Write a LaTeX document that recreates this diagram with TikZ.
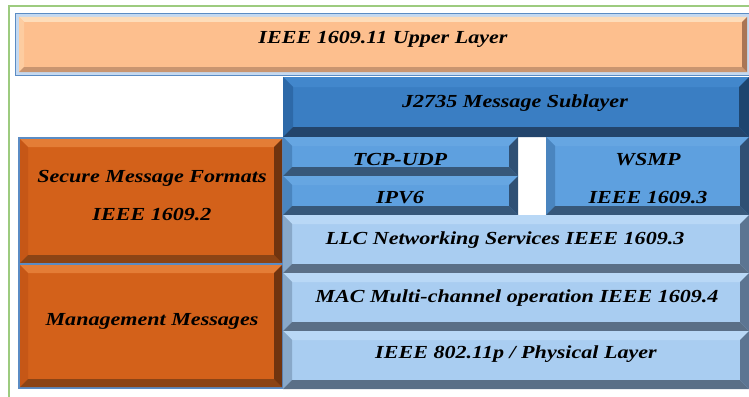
\documentclass[tikz,border=0pt]{standalone}
\usepackage{fontspec}
\newfontfamily\lab[FakeStretch=1.2]{Liberation Serif}
\definecolor{frameG}{HTML}{9DCB7F}
\definecolor{edgeB}{HTML}{5B8CC4}
\definecolor{edgeL}{HTML}{C5D9F0}
% peach
\definecolor{pface}{HTML}{FDBF8E}\definecolor{ptop}{HTML}{FEDDBA}\definecolor{pleft}{HTML}{FDCCA0}\definecolor{pbottom}{HTML}{C99570}\definecolor{pright}{HTML}{A97555}
% dark blue
\definecolor{dface}{HTML}{3A7EC3}\definecolor{dtop}{HTML}{4287CC}\definecolor{dleft}{HTML}{2D69A8}\definecolor{dbottom}{HTML}{23456C}\definecolor{dright}{HTML}{1D456F}
% orange
\definecolor{oface}{HTML}{D3611A}\definecolor{otop}{HTML}{E47D36}\definecolor{oleft}{HTML}{C65716}\definecolor{obottom}{HTML}{8C4415}\definecolor{oright}{HTML}{70340F}
% mid blue
\definecolor{mface}{HTML}{5EA0DF}\definecolor{mtop}{HTML}{66A6E2}\definecolor{mleft}{HTML}{4A85BF}\definecolor{mbottom}{HTML}{37587A}\definecolor{mright}{HTML}{2F5074}
% light blue
\definecolor{lface}{HTML}{A9CDF1}\definecolor{ltop}{HTML}{B9D8F6}\definecolor{lleft}{HTML}{88A8C9}\definecolor{lbottom}{HTML}{5A6F87}\definecolor{lright}{HTML}{5C7592}
\tikzset{
  lbl/.style={font=\lab\bfseries\itshape\fontsize{18.4}{20}\selectfont, inner sep=0pt, anchor=base, text=black},
  facebox/.style={rectangle, inner sep=0pt, outer sep=0pt, draw=none}
}
% #1 name, #2 x1, #3 y1, #4 x2, #5 y2, #6 palette letter, #7 bevel
\newcommand\bevbox[7]{%
  \node[facebox, fill=#6face, minimum width={#4pt-#2pt}, minimum height={#5pt-#3pt}] (#1) at ({(#2+#4)/2},{(#3+#5)/2}) {};
  \fill[#6top] (#1.north west) -- (#1.north east) -- ([xshift=-#7pt,yshift=-#7pt]#1.north east) -- ([xshift=#7pt,yshift=-#7pt]#1.north west) -- cycle;
  \fill[#6left] (#1.north west) -- (#1.south west) -- ([xshift=#7pt,yshift=#7pt]#1.south west) -- ([xshift=#7pt,yshift=-#7pt]#1.north west) -- cycle;
  \fill[#6bottom] (#1.south west) -- (#1.south east) -- ([xshift=-#7pt,yshift=#7pt]#1.south east) -- ([xshift=#7pt,yshift=#7pt]#1.south west) -- cycle;
  \fill[#6right] (#1.north east) -- (#1.south east) -- ([xshift=-#7pt,yshift=#7pt]#1.south east) -- ([xshift=-#7pt,yshift=-#7pt]#1.north east) -- cycle;
}
\begin{document}
\begin{tikzpicture}[x=1pt,y=-1pt]
\useasboundingbox (0,0) rectangle (749,396);
\clip (0,0) rectangle (749,396);
\fill[white] (0,0) rectangle (749,396);
% green frame
\draw[frameG, line width=1.6pt] (9,410) -- (9,6) -- (760,6);
% upper layer frame
\draw[edgeB, fill=edgeL, line width=1.5pt] (15.5,13.5) rectangle (752,75.5);
\bevbox{upper}{19}{17}{747}{72}{p}{5}
\node[lbl] (tupper) at (383,44) {IEEE 1609.11 Upper Layer};
% J2735
\bevbox{j2735}{283}{77}{749}{137}{d}{10}
\node[lbl] (tj2735) at (515,107) {J2735 Message Sublayer};
% left orange boxes
\draw[edgeB, line width=2pt] (19,138) rectangle (283,264);
\bevbox{secure}{20}{139}{282}{263}{o}{8}
\node[lbl] (tsecure1) at (152,182) {Secure Message Formats};
\node[lbl] (tsecure2) at (152,220) {IEEE 1609.2};
\draw[edgeB, line width=2pt] (19,264) rectangle (283,388);
\bevbox{mgmt}{20}{265}{282}{387}{o}{8}
\node[lbl] (tmgmt) at (152,325) {Management Messages};
% mid blue boxes
\bevbox{tcp}{283}{137}{518}{176}{m}{9}
\node[lbl] (ttcp) at (400,165) {TCP-UDP};
\bevbox{ipv6}{283}{176}{518}{215}{m}{9}
\node[lbl] (tipv6) at (400,203) {IPV6};
\bevbox{wsmp}{546}{137}{749}{215}{m}{9}
\node[lbl] (twsmp1) at (648,165) {WSMP};
\node[lbl] (twsmp2) at (648,203) {IEEE 1609.3};
% light blue boxes
\bevbox{llc}{283}{215}{749}{273}{l}{9}
\node[lbl] (tllc) at (505,244) {LLC Networking Services IEEE 1609.3};
\bevbox{mac}{283}{273}{749}{331}{l}{9}
\node[lbl] (tmac) at (517,302) {MAC Multi-channel operation IEEE 1609.4};
\bevbox{phy}{283}{331}{749}{389}{l}{9}
\node[lbl] (tphy) at (516,358) {IEEE 802.11p / Physical Layer};
\end{tikzpicture}
\end{document}
